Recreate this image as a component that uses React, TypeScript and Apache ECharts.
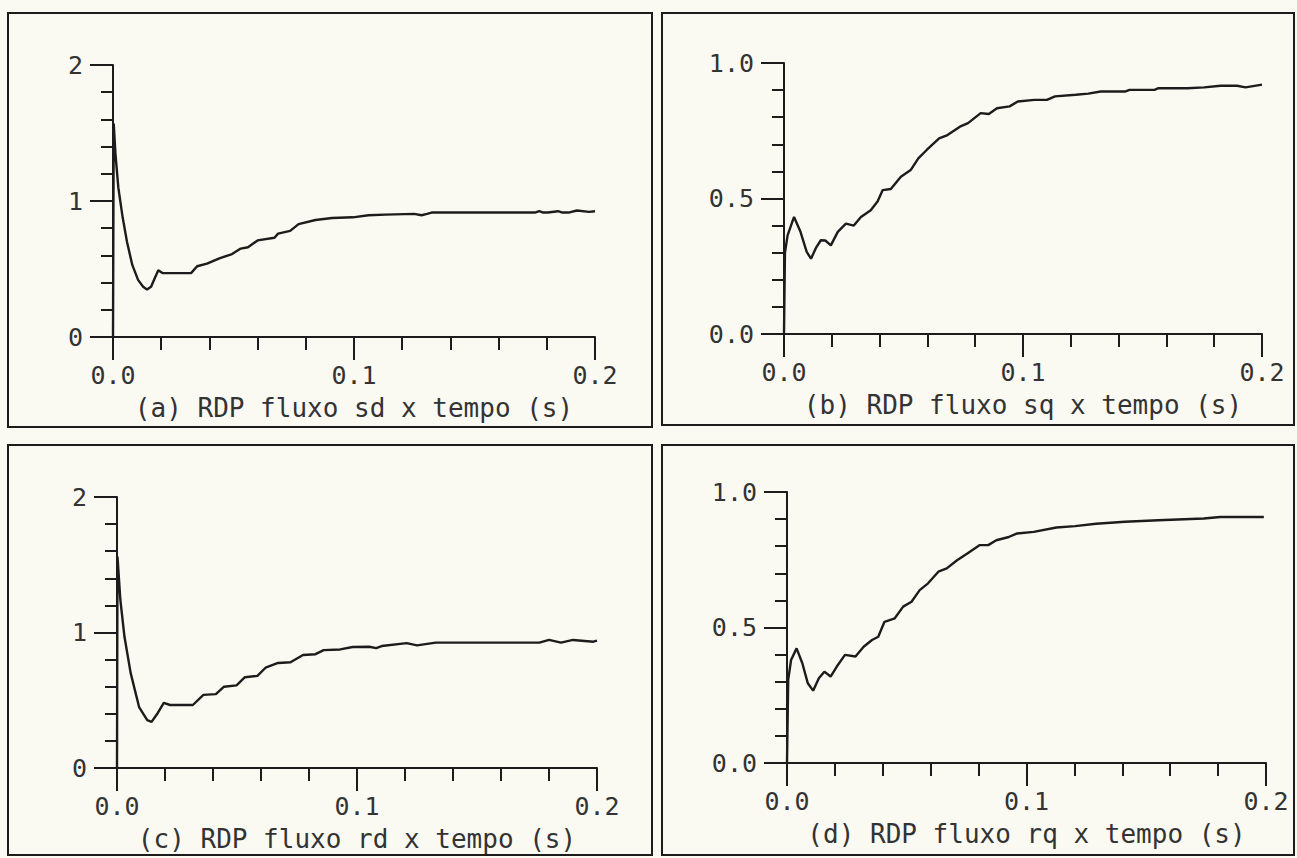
import React, { useEffect, useRef } from "react";
import * as echarts from "echarts";

// ---- data ----
const tA = [0, 0.0003, 0.001, 0.0022, 0.004, 0.0058, 0.008, 0.0104, 0.0125, 0.0141, 0.0158, 0.0175, 0.0188, 0.0205, 0.0324, 0.0349, 0.039, 0.0444, 0.0494, 0.053, 0.056, 0.06, 0.067, 0.0685, 0.0735, 0.077, 0.084, 0.0909, 0.0995, 0.106, 0.113, 0.125, 0.128, 0.1303, 0.1322, 0.1751, 0.1769, 0.1785, 0.1804, 0.1847, 0.1865, 0.189, 0.1925, 0.1975, 0.2];
const vA = [0, 1.57, 1.35, 1.1, 0.88, 0.7, 0.53, 0.42, 0.37, 0.35, 0.37, 0.44, 0.49, 0.47, 0.47, 0.52, 0.54, 0.58, 0.61, 0.65, 0.66, 0.71, 0.73, 0.76, 0.78, 0.83, 0.86, 0.875, 0.88, 0.895, 0.9, 0.905, 0.895, 0.905, 0.915, 0.915, 0.925, 0.915, 0.915, 0.925, 0.915, 0.915, 0.93, 0.92, 0.925];

const tB = [0, 0.0004, 0.0015, 0.0042, 0.0069, 0.0095, 0.0113, 0.0135, 0.0154, 0.0173, 0.0196, 0.0225, 0.0259, 0.0292, 0.0322, 0.0363, 0.0392, 0.0413, 0.0447, 0.0489, 0.053, 0.0562, 0.0597, 0.0649, 0.0684, 0.0736, 0.077, 0.0823, 0.0857, 0.0891, 0.0944, 0.0978, 0.1048, 0.11, 0.1134, 0.1221, 0.1273, 0.1325, 0.1429, 0.1446, 0.155, 0.1567, 0.1688, 0.1758, 0.1827, 0.1896, 0.1931, 0.2];
const vB = [0, 0.3, 0.364, 0.432, 0.377, 0.303, 0.278, 0.32, 0.346, 0.345, 0.327, 0.377, 0.407, 0.4, 0.432, 0.457, 0.49, 0.531, 0.535, 0.58, 0.605, 0.648, 0.679, 0.722, 0.734, 0.765, 0.778, 0.815, 0.812, 0.833, 0.84, 0.858, 0.864, 0.864, 0.877, 0.883, 0.887, 0.895, 0.895, 0.901, 0.901, 0.907, 0.907, 0.91, 0.916, 0.916, 0.91, 0.92];

const tC = [0, 0.0002, 0.0014, 0.0031, 0.0057, 0.0092, 0.0126, 0.0144, 0.017, 0.0195, 0.0221, 0.0316, 0.036, 0.0412, 0.0446, 0.0498, 0.0533, 0.0585, 0.0619, 0.0671, 0.0723, 0.0775, 0.0827, 0.0861, 0.093, 0.0982, 0.1051, 0.108, 0.1103, 0.1207, 0.125, 0.1328, 0.176, 0.18, 0.185, 0.19, 0.1985, 0.2];
const vC = [0, 1.56, 1.24, 0.97, 0.7, 0.45, 0.354, 0.34, 0.406, 0.48, 0.465, 0.465, 0.54, 0.545, 0.6, 0.61, 0.67, 0.68, 0.74, 0.775, 0.78, 0.834, 0.84, 0.87, 0.875, 0.893, 0.895, 0.885, 0.9, 0.922, 0.905, 0.925, 0.925, 0.945, 0.925, 0.945, 0.932, 0.94];

const tD = [0, 0.0005, 0.0017, 0.004, 0.0064, 0.0087, 0.0109, 0.0133, 0.0156, 0.0182, 0.0208, 0.0242, 0.0286, 0.032, 0.0355, 0.0381, 0.0407, 0.045, 0.0485, 0.052, 0.0554, 0.0589, 0.0632, 0.0667, 0.071, 0.0753, 0.0805, 0.084, 0.0874, 0.0926, 0.0961, 0.103, 0.1125, 0.1203, 0.129, 0.1411, 0.155, 0.174, 0.1809, 0.1991];
const vD = [0, 0.307, 0.38, 0.423, 0.368, 0.294, 0.267, 0.313, 0.337, 0.319, 0.356, 0.399, 0.393, 0.429, 0.454, 0.466, 0.521, 0.534, 0.577, 0.595, 0.638, 0.663, 0.706, 0.718, 0.748, 0.773, 0.804, 0.804, 0.822, 0.834, 0.847, 0.853, 0.869, 0.874, 0.883, 0.89, 0.896, 0.902, 0.908, 0.908];

const panelTitles = [
  "(a) RDP fluxo sd x tempo (s)",
  "(b) RDP fluxo sq x tempo (s)",
  "(c) RDP fluxo rd x tempo (s)",
  "(d) RDP fluxo rq x tempo (s)",
];
const yMax = [2, 1, 2, 1];
const yInterval = [1, 0.5, 1, 0.5];
const yDecimals = [0, 1, 0, 1];
const xMax = 0.2;
const xInterval = 0.1;

const INK = "#1c1c1c";
const TEXT = "#333333";
const BG = "#fbfaf2";
const FONT = "'DejaVu Sans Mono', 'Liberation Mono', monospace";

const zip = (t: number[], v: number[]) => t.map((x, i) => [x, v[i]]);

export default function App() {
  const ref = useRef<HTMLDivElement>(null);
  useEffect(() => {
    document.body.style.margin = "0";
    const chart = echarts.init(ref.current!, undefined, { renderer: "svg" });
    const grids = [
      { left: 113, top: 65, width: 482, height: 272 },
      { left: 784, top: 63, width: 478, height: 271 },
      { left: 117, top: 497, width: 480, height: 271 },
      { left: 787, top: 492, width: 479, height: 271 },
    ];
    const datas = [zip(tA, vA), zip(tB, vB), zip(tC, vC), zip(tD, vD)];
    const frames = [
      { x: 8, y: 13, width: 644, height: 414 },
      { x: 662, y: 13, width: 632, height: 412 },
      { x: 8, y: 445, width: 644, height: 410 },
      { x: 662, y: 445, width: 632, height: 410 },
    ];
    const option: any = {
      animation: false,
      backgroundColor: BG,
      grid: grids.map((g) => ({ ...g, containLabel: false })),
      xAxis: grids.map((_, i) => ({
        type: "value",
        gridIndex: i,
        min: 0,
        max: xMax,
        interval: xInterval,
        name: panelTitles[i],
        nameLocation: "middle",
        nameGap: 58,
        nameTextStyle: { fontFamily: FONT, fontSize: 26, color: TEXT },
        axisLine: { show: true, onZero: false, lineStyle: { color: INK, width: 2 } },
        axisTick: { show: true, length: 23, lineStyle: { color: INK, width: 2 } },
        minorTick: { show: true, splitNumber: 5, length: 13, lineStyle: { color: INK, width: 2 } },
        splitLine: { show: false },
        axisLabel: {
          margin: 26,
          fontFamily: FONT,
          fontSize: 25,
          color: TEXT,
          formatter: (v: number) => v.toFixed(1),
        },
      })),
      yAxis: grids.map((_, i) => ({
        type: "value",
        gridIndex: i,
        min: 0,
        max: yMax[i],
        interval: yInterval[i],
        axisLine: { show: true, lineStyle: { color: INK, width: 2 } },
        axisTick: { show: true, length: 23, lineStyle: { color: INK, width: 2 } },
        minorTick: { show: true, splitNumber: 5, length: 12, lineStyle: { color: INK, width: 2 } },
        splitLine: { show: false },
        axisLabel: {
          margin: 30,
          fontFamily: FONT,
          fontSize: 25,
          color: TEXT,
          formatter: (v: number) => v.toFixed(yDecimals[i]),
        },
      })),
      series: datas.map((d, i) => ({
        type: "line",
        xAxisIndex: i,
        yAxisIndex: i,
        data: d,
        showSymbol: false,
        symbol: "none",
        lineStyle: { color: INK, width: 2.4 },
      })),
      graphic: frames.map((f) => ({
        type: "rect",
        shape: f,
        silent: true,
        style: { fill: "none", stroke: INK, lineWidth: 2 },
      })),
    };
    chart.setOption(option);
    return () => chart.dispose();
  }, []);
  return <div ref={ref} style={{ width: 1297, height: 858 }} />;
}
